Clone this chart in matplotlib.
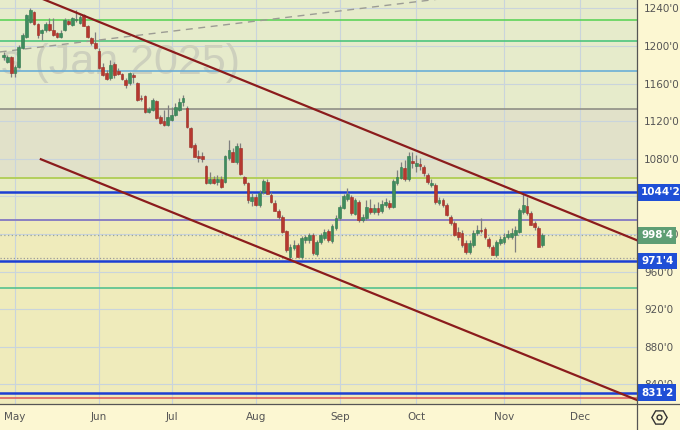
import numpy as np
import pandas as pd
import matplotlib
matplotlib.use("Agg")
import matplotlib.pyplot as plt
from matplotlib.lines import Line2D
import matplotlib.transforms as mtrans

# ---------------- data ----------------
opens = [1188,1183,1188,1171,1178,1198,1210,1226,1236,1223,1214,1217,1223,1217,1214,1210,1217,1227,1222,1228,
         1225,1233,1221,1209,1203,1195,1178,1171,1166,1181,1173,1170,1164,1161,1169,1161,1145,1147,1130,1132,
         1142,1124,1120,1116,1121,1127,1132,1140,1134,1113,1095,1083,1083,1072,1054,1059,1055,1058,1055,1081,
         1087,1077,1092,1061,1054,1035,1039,1031,1045,1055,1042,1033,1025,1018,1003,975,985,988,975,994,
         994,999,979,991,996,1003,993,1006,1017,1028,1037,1039,1021,1034,1015,1017,1028,1023,1028,1025,
         1031,1033,1029,1054,1060,1070,1059,1078,1072,1074,1071,1063,1052,1052,1033,1036,1031,1018,1012,1002,
         1001,990,981,988,1001,1004,1005,995,986,978,990,991,997,997,999,1002,1023,1030,1022,1012,1006,988]
highs = [1194,1190,1189,1180,1201,1214,1234,1240,1237,1225,1218,1226,1230,1230,1215,1217,1230,1229,1231,1238,
         1233,1234,1222,1210,1215,1198,1182,1175,1185,1183,1177,1171,1166,1172,1171,1162,1148,1148,1135,1145,
         1143,1127,1132,1137,1135,1139,1145,1148,1136,1114,1097,1089,1087,1073,1066,1062,1063,1062,1084,1100,
         1092,1097,1097,1062,1055,1044,1043,1047,1059,1058,1045,1036,1027,1020,1004,989,994,990,998,999,
         1001,1001,994,1001,1005,1005,1011,1020,1031,1043,1049,1041,1038,1036,1021,1036,1037,1032,1034,1036,
         1038,1036,1058,1068,1077,1079,1087,1087,1084,1081,1073,1065,1058,1054,1039,1038,1033,1020,1014,1007,
         1004,994,994,1004,1010,1017,1007,997,988,994,998,1001,1004,1006,1009,1028,1044,1039,1025,1014,1009,1001]
lows = [1185,1182,1167,1167,1177,1197,1209,1225,1222,1209,1206,1215,1216,1211,1209,1209,1216,1222,1221,1226,
        1223,1221,1209,1201,1197,1176,1168,1164,1164,1166,1169,1164,1155,1159,1161,1142,1142,1129,1129,1131,
        1122,1117,1115,1115,1120,1126,1131,1136,1113,1092,1082,1077,1077,1053,1053,1053,1052,1049,1054,1079,
        1077,1075,1063,1052,1033,1030,1030,1029,1043,1043,1033,1024,1016,1001,981,972,983,975,973,990,
        990,978,977,989,994,991,990,1004,1015,1027,1035,1020,1020,1013,1013,1015,1021,1021,1020,1022,
        1029,1027,1028,1052,1058,1056,1056,1070,1066,1068,1062,1053,1050,1032,1031,1029,1019,1010,998,994,
        986,979,979,986,999,1001,995,985,978,976,988,989,995,995,981,1001,1021,1020,1010,1004,986,986]
closes = [1190,1188,1171,1178,1199,1212,1233,1238,1223,1212,1217,1223,1217,1212,1210,1214,1228,1223,1230,1229,
          1231,1221,1210,1203,1198,1177,1169,1165,1180,1169,1170,1165,1159,1171,1167,1143,1144,1130,1133,1143,
          1123,1118,1116,1125,1127,1135,1140,1145,1114,1093,1082,1081,1080,1054,1059,1054,1058,1050,1083,1089,
          1077,1094,1064,1054,1036,1039,1031,1044,1056,1043,1034,1025,1018,1002,983,986,988,975,996,997,
          999,980,991,999,1002,994,1009,1017,1029,1040,1043,1022,1036,1015,1018,1029,1023,1028,1023,1032,
          1034,1029,1056,1061,1071,1059,1083,1076,1076,1072,1065,1055,1054,1034,1036,1031,1020,1012,999,997,
          988,981,990,1001,1004,1003,997,987,978,991,995,997,1000,1001,1004,1026,1031,1022,1010,1007,986,998.5]

holidays = ["2024-05-27", "2024-06-19", "2024-07-04", "2024-09-02", "2024-11-28"]
all_days = pd.bdate_range("2024-04-26", "2024-12-31")
all_days = all_days[~all_days.isin(pd.to_datetime(holidays))]
dates = all_days[:len(closes)]

month_names = ["May", "Jun", "Jul", "Aug", "Sep", "Oct", "Nov", "Dec"]
month_nums = [5, 6, 7, 8, 9, 10, 11, 12]

# horizontal levels: (price, color, width, style)
h_levels = [
    (1227.7, "#5fd35a", 1.2, "-"),
    (1205.4, "#4ec57e", 1.2, "-"),
    (1173.5, "#6aaed6", 1.2, "-"),
    (1133.0, "#8f8f86", 1.2, "-"),
    (1059.6, "#b3cf5c", 1.4, "-"),
    (1044.25, "#1c3fd3", 1.8, "-"),
    (1015.0, "#8a80c2", 1.4, "-"),
    (974.0, "#9a9a9a", 0.9, ":"),
    (971.5, "#1c3fd3", 1.8, "-"),
    (942.6, "#55c18f", 1.2, "-"),
    (831.25, "#1c3fd3", 1.8, "-"),
    (825.5, "#e06060", 1.2, "-"),
]
last_price = 998.5

# price boxes on the axis
box_prices = [1044.25, 998.5, 971.5, 831.25]
box_labels = ["1044'2", "998'4", "971'4", "831'2"]
box_colors = ["#1f4fd6", "#5e9e74", "#1f4fd6", "#1f4fd6"]

# trend lines (bar index, price)
upper_channel = [(0, 1267), (166, 993)]
lower_channel = [(9.5, 1080), (166, 823)]
dashed_trend = [(-1, 1193.7), (120, 1253)]

# background bands (price from, price to, color)
bands = [
    (1133.0, 1260, "#e6ebcb"),
    (1059.6, 1133.0, "#e1e1c9"),
    (1015.0, 1059.6, "#e8ebc4"),
    (800, 1015.0, "#efebbb"),
]

yticks = list(range(840, 1241, 40))

# ---------------- figure ----------------
W, H = 680, 430
fig = plt.figure(figsize=(W / 100, H / 100), dpi=100)
fig.patch.set_facecolor("#fcf7d2")
ax = fig.add_axes([0, (H - 404) / H, 637 / W, 404 / H])
ax.set_facecolor("#efebbb")

n = len(closes)
idx = np.arange(n)
ax.set_xlim(-0.92, 165.8)
ax.set_ylim(819.1, 1249)

for lo, hi, c in bands:
    ax.axhspan(lo, hi, color=c, zorder=0, lw=0)

# month ticks
m_pos = []
for m in month_nums:
    pos = np.where(all_days.month == m)[0]
    m_pos.append(pos[0])
for p in m_pos:
    ax.axvline(p, color="#c9d4dc", lw=0.8, zorder=1)
for y in yticks:
    ax.axhline(y, color="#c9d4dc", lw=0.8, zorder=1)

for price, col, lw, ls in h_levels:
    ax.axhline(price, color=col, lw=lw, ls=ls, zorder=2)
ax.axhline(last_price, color="#9aa59a", lw=0.9, ls=(0, (1, 2)), zorder=2)

# watermark
ax.text(1 / 637, (404 - 74) / 404, "s (Jan 2025)", transform=ax.transAxes,
        fontsize=31, family="Liberation Sans", color="#cdd0bd", ha="left",
        va="baseline", zorder=1.5, clip_on=True)

# dashed trend line
xs, ys = zip(*dashed_trend)
ax.plot(xs, ys, color="#9c9c94", lw=1.0, ls=(0, (5, 4)), zorder=2.5)

# candles
o = np.array(opens, float); c = np.array(closes, float)
h = np.array(highs, float); l = np.array(lows, float)
up = c >= o
body_lo = np.minimum(o, c)
body_h = np.maximum(np.abs(c - o), 0.8)
ax.vlines(idx, l, h, color="#7f7f7f", lw=0.9, zorder=3)
ax.bar(idx[up], body_h[up], bottom=body_lo[up], width=0.72,
       color="#3f8c5e", edgecolor="#2f7a4e", lw=0.4, zorder=4)
ax.bar(idx[~up], body_h[~up], bottom=body_lo[~up], width=0.72,
       color="#b6382f", edgecolor="#9c2c24", lw=0.4, zorder=4)

# channel lines
for line in (upper_channel, lower_channel):
    xs, ys = zip(*line)
    ax.plot(xs, ys, color="#8b1c1c", lw=1.6, zorder=5, solid_capstyle="butt")

# axes styling
ax.yaxis.tick_right()
ax.set_yticks(yticks)
ax.set_yticklabels([f"{v}'0" for v in yticks])
ax.set_xticks(m_pos)
ax.set_xticklabels(month_names)
ax.tick_params(axis="y", length=0, pad=5, labelsize=7.5, labelcolor="#555555")
ax.tick_params(axis="x", length=0, pad=6, labelsize=7.5, labelcolor="#555555")
for s in ["top", "left", "right", "bottom"]:
    ax.spines[s].set_visible(False)

# separator lines (figure coords)
fig.add_artist(Line2D([637 / W, 637 / W], [0, 1], color="#555555", lw=0.9))
fig.add_artist(Line2D([0, 1], [(H - 404) / H, (H - 404) / H], color="#555555", lw=0.9))

# price boxes
trans = mtrans.blended_transform_factory(ax.transAxes, ax.transData)
for p, lab, col in zip(box_prices, box_labels, box_colors):
    ax.text(1 + 4 / 637, p, lab, transform=trans, ha="left", va="center",
            fontsize=7.5, fontweight="bold", color="white", zorder=10, clip_on=False,
            bbox=dict(boxstyle="square,pad=0.3", fc=col, ec="none"))

# gear icon
fig.add_artist(Line2D([659 / W], [1 - 417 / H], marker="H", markersize=11, mfc="none",
                      mec="#333333", mew=1.0, ls="none"))
fig.add_artist(Line2D([659 / W], [1 - 417 / H], marker="o", markersize=3.5, mfc="none",
                      mec="#333333", mew=1.0, ls="none"))

fig.savefig("out.png", dpi=100, facecolor=fig.get_facecolor())
